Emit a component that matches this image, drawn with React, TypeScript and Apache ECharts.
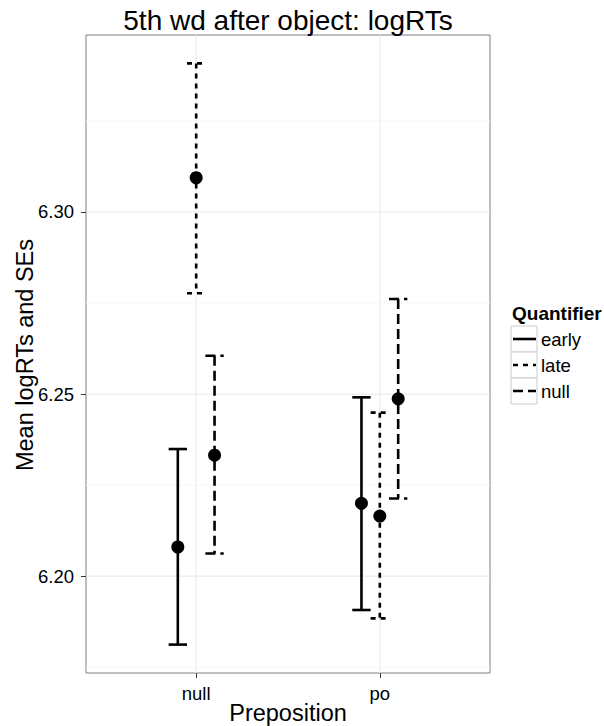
import React, { useEffect, useRef } from "react";
import * as echarts from "echarts";

const categories = ["null", "po"];
const quantifiers = ["early", "late", "null"];
const meanEarly = [6.208, 6.22];
const meanLate = [6.3094, 6.2165];
const meanNull = [6.2332, 6.2487];
const upperEarly = [6.2349, 6.2491];
const upperLate = [6.3408, 6.2449];
const upperNull = [6.2605, 6.2761];
const lowerEarly = [6.1812, 6.1907];
const lowerLate = [6.2777, 6.1884];
const lowerNull = [6.2062, 6.2213];
const yTickValues = [6.2, 6.25, 6.3];
const yMinorValues = [6.175, 6.225, 6.275, 6.325];
const xTickValues = [1, 2];

const FONT = "'Liberation Sans', Arial, Helvetica, sans-serif";
const DODGE = [-0.1, 0, 0.1];
const CAP = 0.05;
const DASHES: (number[] | null)[] = [null, [5, 5], [10, 5]];
const LW = 2.6;

const means = [meanEarly, meanLate, meanNull];
const uppers = [upperEarly, upperLate, upperNull];
const lowers = [lowerEarly, lowerLate, lowerNull];

function lineStyle(dash: number[] | null) {
  const s: any = { stroke: "#000", lineWidth: LW, lineCap: "butt", fill: null };
  if (dash) s.lineDash = dash;
  return s;
}

export default function App() {
  const ref = useRef<HTMLDivElement>(null);
  useEffect(() => {
    if (!ref.current) return;
    const chart = echarts.init(ref.current, undefined, { renderer: "svg" });

    const gridData: number[][] = [];
    yMinorValues.forEach((v) => gridData.push([0, v]));
    yTickValues.forEach((v) => gridData.push([1, v]));
    xTickValues.forEach((v) => gridData.push([2, v]));

    const series: any[] = [
      {
        type: "custom",
        name: "grid",
        z: 1,
        silent: true,
        data: gridData,
        encode: { x: 1, y: 1 },
        renderItem: (params: any, api: any) => {
          const kind = api.value(0);
          const v = api.value(1);
          let p1, p2;
          if (kind === 2) {
            p1 = api.coord([v, 6.1734]);
            p2 = api.coord([v, 6.3486]);
          } else {
            p1 = api.coord([0.4, v]);
            p2 = api.coord([2.6, v]);
          }
          return {
            type: "line",
            shape: { x1: p1[0], y1: p1[1], x2: p2[0], y2: p2[1] },
            style: {
              stroke: kind === 0 ? "#f7f7f7" : "#ebebeb",
              lineWidth: kind === 0 ? 1 : 1.2,
            },
          };
        },
      },
    ];

    quantifiers.forEach((q, qi) => {
      const errData = categories.map((c, ci) => [
        ci + 1 + DODGE[qi],
        lowers[qi][ci],
        uppers[qi][ci],
      ]);
      series.push({
        type: "custom",
        name: q + "-err",
        z: 2,
        data: errData,
        encode: { x: 0, y: [1, 2] },
        renderItem: (params: any, api: any) => {
          const x = api.value(0);
          const lo = api.value(1);
          const hi = api.value(2);
          const a = api.coord([x - CAP, hi]);
          const b = api.coord([x + CAP, hi]);
          const c = api.coord([x, hi]);
          const d = api.coord([x, lo]);
          const e = api.coord([x - CAP, lo]);
          const f = api.coord([x + CAP, lo]);
          const st = lineStyle(DASHES[qi]);
          return {
            type: "group",
            children: [
              { type: "line", shape: { x1: a[0], y1: a[1], x2: b[0], y2: b[1] }, style: st },
              { type: "line", shape: { x1: c[0], y1: c[1], x2: d[0], y2: d[1] }, style: st },
              { type: "line", shape: { x1: e[0], y1: e[1], x2: f[0], y2: f[1] }, style: st },
            ],
          };
        },
      });
      series.push({
        type: "scatter",
        name: q,
        z: 3,
        symbol: "circle",
        symbolSize: 13,
        itemStyle: { color: "#000", opacity: 1 },
        data: categories.map((c, ci) => [ci + 1 + DODGE[qi], means[qi][ci]]),
      });
    });

    const legendEls: any[] = [
      {
        type: "text",
        x: 512,
        y: 313,
        style: {
          text: "Quantifier",
          font: `bold 19px ${FONT}`,
          fill: "#000",
          align: "left",
          verticalAlign: "middle",
        },
      },
    ];
    quantifiers.forEach((q, qi) => {
      const top = 326 + qi * 26;
      const cy = top + 13;
      legendEls.push({
        type: "rect",
        shape: { x: 511, y: top, width: 26, height: 26 },
        style: { fill: "#fff", stroke: "#cccccc", lineWidth: 1 },
      });
      legendEls.push({
        type: "line",
        shape: { x1: 513, y1: cy, x2: 536, y2: cy },
        style: lineStyle(DASHES[qi]),
      });
      legendEls.push({
        type: "text",
        x: 541,
        y: cy,
        style: {
          text: q,
          font: `18.5px ${FONT}`,
          fill: "#000",
          align: "left",
          verticalAlign: "middle",
        },
      });
    });

    chart.setOption({
      animation: false,
      backgroundColor: "#fff",
      grid: {
        left: 86,
        right: 114,
        top: 35,
        bottom: 53,
        show: true,
        borderColor: "#7f7f7f",
        borderWidth: 1,
        backgroundColor: "#fff",
      },
      xAxis: {
        type: "value",
        min: 0.4,
        max: 2.6,
        axisLine: { show: false, onZero: false },
        splitLine: { show: false },
        axisTick: {
          show: true,
          customValues: xTickValues,
          length: 5,
          lineStyle: { color: "#333", width: 1 },
        },
        axisLabel: {
          customValues: xTickValues,
          formatter: (v: number) => categories[Math.round(v) - 1] ?? "",
          color: "#000",
          fontSize: 18.5,
          fontFamily: FONT,
          margin: 11,
        },
      },
      yAxis: {
        type: "value",
        min: 6.1734,
        max: 6.3486,
        axisLine: { show: false, onZero: false },
        splitLine: { show: false },
        axisTick: {
          show: true,
          customValues: yTickValues,
          length: 5,
          lineStyle: { color: "#333", width: 1 },
        },
        axisLabel: {
          customValues: yTickValues,
          formatter: (v: number) => v.toFixed(2),
          color: "#000",
          fontSize: 18.5,
          fontFamily: FONT,
          margin: 12,
        },
      },
      graphic: [
        {
          type: "text",
          x: 288,
          y: 20,
          style: {
            text: "5th wd after object: logRTs",
            font: `28px ${FONT}`,
            fill: "#000",
            align: "center",
            verticalAlign: "middle",
          },
        },
        {
          type: "text",
          x: 288,
          y: 713,
          style: {
            text: "Preposition",
            font: `23.5px ${FONT}`,
            fill: "#000",
            align: "center",
            verticalAlign: "middle",
          },
        },
        {
          type: "text",
          x: 25,
          y: 355,
          rotation: Math.PI / 2,
          style: {
            text: "Mean logRTs and SEs",
            font: `23.5px ${FONT}`,
            fill: "#000",
            align: "center",
            verticalAlign: "middle",
          },
        },
        ...legendEls,
      ],
      series,
    });
    return () => chart.dispose();
  }, []);
  return (
    <div
      ref={ref}
      style={{ position: "fixed", left: 0, top: 0, width: 604, height: 726 }}
    />
  );
}
